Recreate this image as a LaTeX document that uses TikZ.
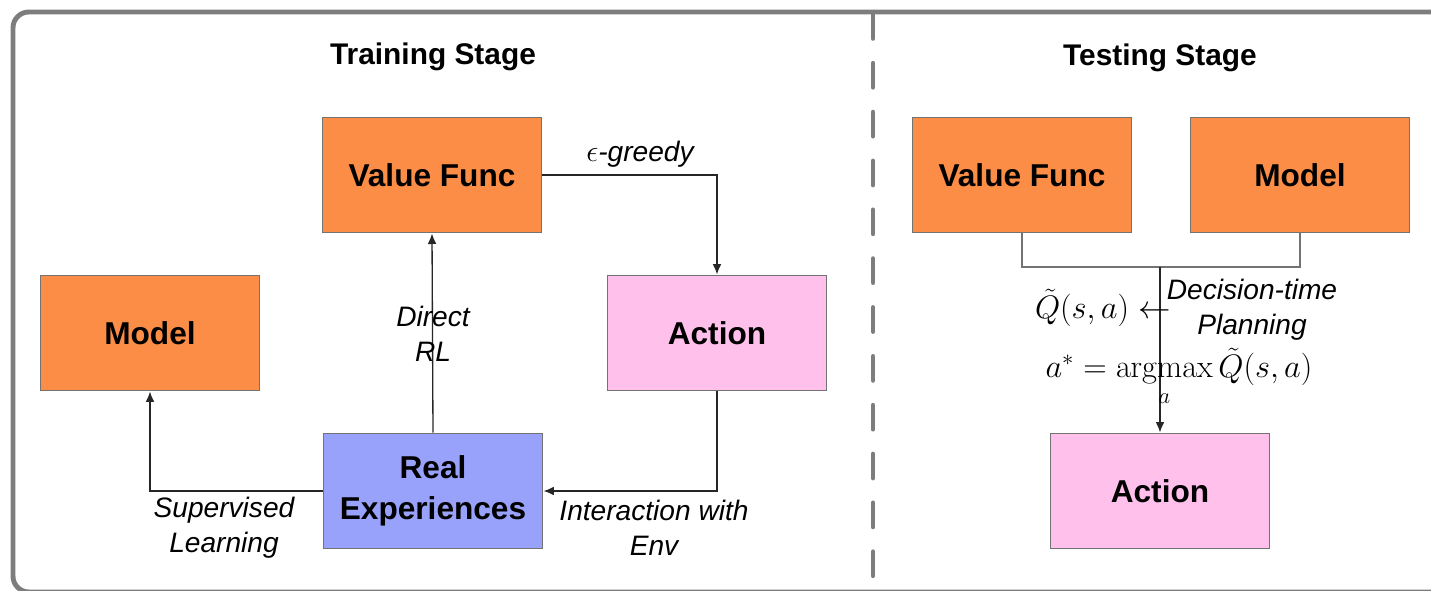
\documentclass[tikz,border=0pt]{standalone}
\usepackage{amsmath}
\usepackage[no-math]{fontspec}
\setmainfont{Liberation Sans}
\usetikzlibrary{arrows.meta}

\definecolor{vforange}{RGB}{252,141,70}
\definecolor{actpink}{RGB}{255,193,236}
\definecolor{expblue}{RGB}{153,162,250}
\definecolor{framegray}{RGB}{125,125,125}

\newcommand{\eqtext}[1]{\scalebox{1.07}{#1}}

\tikzset{
  block/.style={draw=black!55, line width=1.1pt, minimum width=4.38cm, minimum height=2.3cm,
    inner sep=0pt, align=center, font=\fontsize{18}{23}\selectfont\bfseries},
  flow/.style={-{Latex[length=6pt,width=5pt]}, line width=0.75pt, draw=black!85},
  tag/.style={align=center, font=\fontsize{16}{20}\selectfont\itshape},
  heading/.style={font=\fontsize{17}{20}\selectfont\bfseries},
  eqn/.style={inner sep=0pt, font=\fontsize{17.28}{21}\selectfont}
}

\begin{document}
\begin{tikzpicture}[x=0.02cm, y=-0.02cm]
\useasboundingbox (0,0) rectangle (1431,591);
% frame and stage divider
\draw[framegray, line width=2.8pt, rounded corners=9pt] (13,592) -- (13,12) -- (1470,12) -- (1470,592) -- cycle;
\draw[framegray, line width=2.8pt, line cap=round, dash pattern=on 13.6pt off 14.2pt] (873,14.5) -- (873,600);

\node[heading] (train) at (433,57) {Training Stage};
\node[heading] (test) at (1160,58) {Testing Stage};

% training stage
\node[block, fill=vforange] (vf) at (432,175) {Value Func};
\node[block, fill=vforange] (model) at (150,333) {Model};
\node[block, fill=actpink] (act) at (717,333) {Action};
\node[block, fill=expblue] (real) at (433,491) {Real\\Experiences};

\draw[flow] (vf.east) -| (act.north);
\draw[flow] (real.north) -- (vf.south);
\draw[flow] (act.south) |- (real.east);
\draw[flow] (real.west) -| (model.south);

\node[tag] (greedy) at (640,154) {$\epsilon$-greedy};
\node[tag] (direct) at (433,334) {Direct\\RL};
\node[tag] (superv) at (224,528) {Supervised\\Learning};
\node[tag] (interact) at (654,528) {Interaction with\\Env};

% testing stage
\node[block, fill=vforange] (tvf) at (1022,175) {Value Func};
\node[block, fill=vforange] (tmodel) at (1300,175) {Model};
\node[block, fill=actpink] (tact) at (1160,491) {Action};

\coordinate (merge) at (1160,267);
\draw[line width=0.75pt, draw=black!55] (tvf.south) |- (merge) -| (tmodel.south);
\draw[flow] (merge) -- (tact.north);

\node[tag] (plan) at (1252,310) {Decision-time\\Planning};
\node[eqn, anchor=east] (qval) at (1171,308) {\eqtext{$\tilde{Q}(s,a)\leftarrow$}};
\node[eqn] (amax) at (1179,377) {\eqtext{$a^{*}=\mathop{\mathrm{argmax}}\limits_{a}\tilde{Q}(s,a)$}};
\end{tikzpicture}
\end{document}
